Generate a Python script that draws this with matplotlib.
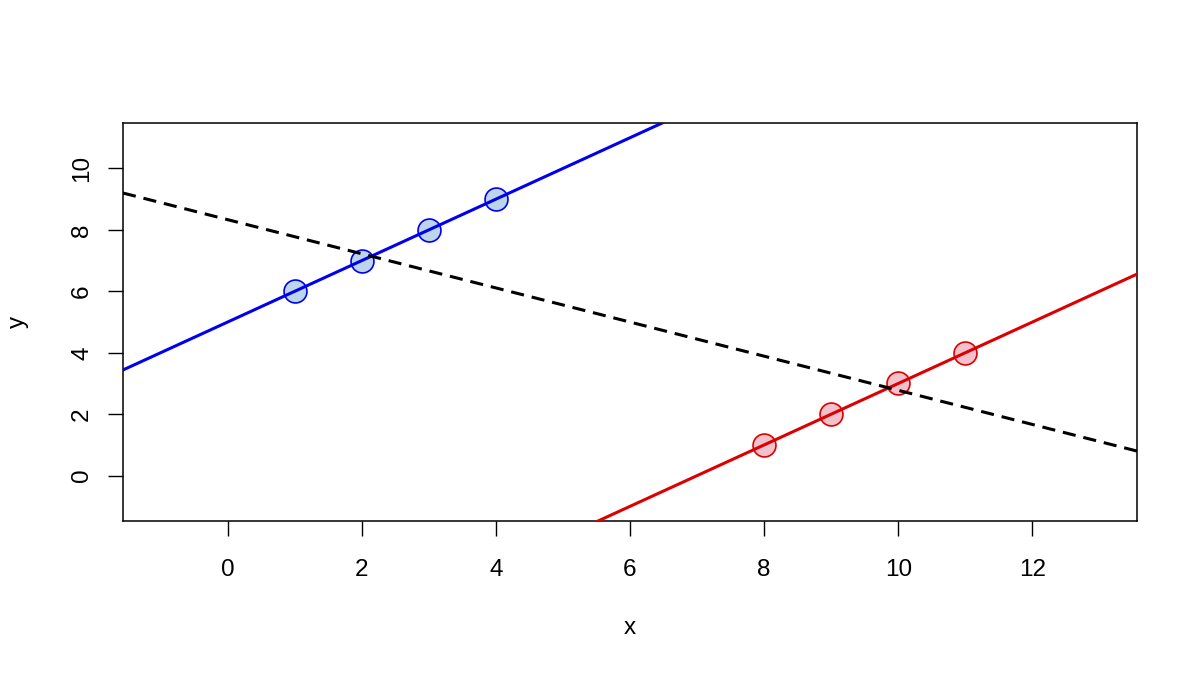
import numpy as np
import matplotlib
matplotlib.use("Agg")
import matplotlib.pyplot as plt

plt.rcParams['font.family'] = ['Liberation Sans', 'DejaVu Sans']

blue_x = [1, 2, 3, 4]
blue_y = [6, 7, 8, 9]
red_x = [8, 9, 10, 11]
red_y = [1, 2, 3, 4]
x_ticks = [0, 2, 4, 6, 8, 10, 12]
y_ticks = [0, 2, 4, 6, 8, 10]

fig = plt.figure(figsize=(12, 6.75), dpi=100)
ax = fig.add_axes([0.1025, 0.228, 0.845, 0.5898])
xlim = (-1.56, 13.56)
ylim = (-1.48, 11.48)
ax.set_xlim(*xlim)
ax.set_ylim(*ylim)

ax.plot(blue_x, blue_y, 'o', ms=16.5, mfc='#bcd5e8', mec='#0000ee', mew=1.2, zorder=2)
ax.plot(red_x, red_y, 'o', ms=16.5, mfc='#f2c1cc', mec='#dd0000', mew=1.2, zorder=2)

xx = np.array(xlim)
bb = np.polyfit(blue_x, blue_y, 1)
rb = np.polyfit(red_x, red_y, 1)
ab = np.polyfit(blue_x + red_x, blue_y + red_y, 1)
ax.plot(xx, np.polyval(bb, xx), color='#0000ee', lw=2.2, zorder=3)
ax.plot(xx, np.polyval(rb, xx), color='#dd0000', lw=2.2, zorder=3)
ax.plot(xx, np.polyval(ab, xx), color='black', lw=2.2, ls=(0, (4.3, 2.6)), zorder=4)

ax.set_xticks(x_ticks)
ax.set_yticks(y_ticks)
ax.tick_params(direction='out', length=10.5, width=1, labelsize=17.5)
ax.tick_params(axis='x', pad=17)
ax.tick_params(axis='y', pad=11)
for lab in ax.get_yticklabels():
    lab.set_rotation(90)
    lab.set_va('center')
for s in ax.spines.values():
    s.set_linewidth(1.1)

ax.text(0.5, -107/398, 'x', transform=ax.transAxes, ha='center', va='center', fontsize=17.5)
ax.text(-105/1014, 0.5, 'y', transform=ax.transAxes, ha='center', va='center', fontsize=17.5, rotation=90)

fig.savefig('out.png', dpi=100)
